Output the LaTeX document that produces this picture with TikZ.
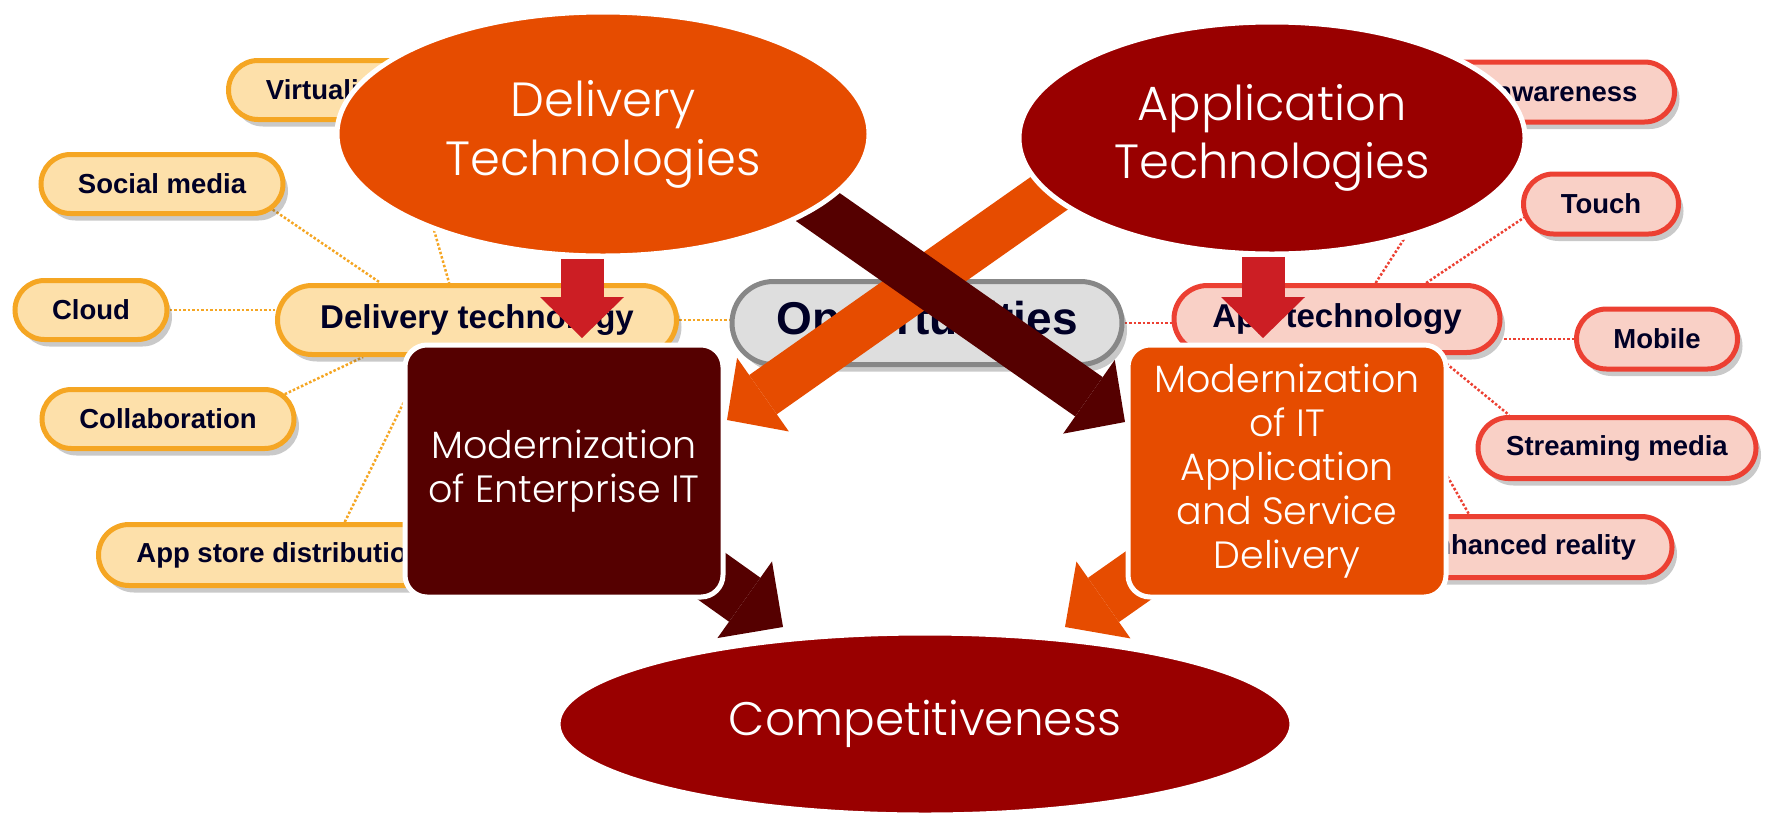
\documentclass[tikz,border=0pt]{standalone}
\usepackage{fontspec}
\usetikzlibrary{shapes.geometric,shapes.misc,arrows.meta,shadows}
\newfontfamily\gothic{Poppins}[UprightFont={* Light}]
\newfontfamily\mapfont{Liberation Sans}
\definecolor{techorange}{RGB}{230,76,0}
\definecolor{techred}{RGB}{153,0,0}
\definecolor{techmaroon}{RGB}{85,0,0}
\definecolor{downred}{RGB}{204,30,36}
\definecolor{delivline}{RGB}{245,166,35}
\definecolor{delivfill}{RGB}{253,224,170}
\definecolor{appline}{RGB}{236,64,50}
\definecolor{appfill}{RGB}{249,208,198}
\definecolor{oppline}{RGB}{135,135,135}
\definecolor{oppfill}{RGB}{222,222,222}
\pgfdeclarelayer{dots}
\pgfdeclarelayer{boxes}
\pgfdeclarelayer{arrows}
\pgfsetlayers{dots,boxes,arrows,main}
\tikzset{
  mapbox/.style={rounded rectangle, line width=5pt, inner sep=0pt, text=black!85!blue,
    font=\mapfont\bfseries\fontsize{27.5}{30}\selectfont,
    drop shadow={shadow xshift=5pt, shadow yshift=-7pt, opacity=0.3, fill=black!70}},
  delivbox/.style={mapbox, draw=delivline, fill=delivfill},
  apptechbox/.style={mapbox, draw=appline, fill=appfill},
  bigshape/.style={draw=white, line width=5pt, inner sep=0pt, text=white, align=center},
  delivdots/.style={draw=delivline, line width=2.5pt, dash pattern=on 2.5pt off 2pt},
  appdots/.style={draw=appline, line width=2.5pt, dash pattern=on 2.5pt off 2pt},
  fatarrow/.style={line width=48pt, -{Triangle[length=44pt, width=90pt, line width=0pt]}},
  lowarrow/.style={line width=54pt, -{Triangle[length=47pt, width=94pt, line width=0pt]}},
  droparrow/.style={line width=43pt, color=downred, -{Triangle[length=41pt, width=84pt, line width=0pt]}}
}
\begin{document}
\begin{tikzpicture}[x=1pt,y=-1pt]
	\useasboundingbox (0,0) rectangle (1769,812);
	\node[bigshape, ellipse, fill=techorange, minimum width=532pt, minimum height=244pt,
		font=\gothic\fontsize{48}{59}\selectfont] (deliv) at (603,134) {Delivery\\Technologies};
	\node[bigshape, ellipse, fill=techred, minimum width=506pt, minimum height=232pt,
		font=\gothic\fontsize{48}{58}\selectfont] (applic) at (1272,138) {Application\\Technologies};
	\node[bigshape, rectangle, rounded corners=22pt, fill=techmaroon, minimum width=318pt, minimum height=252pt,
		font=\gothic\fontsize{38}{43.5}\selectfont] (entbox) at (564,471) {Modernization\\of Enterprise IT};
	\node[bigshape, rectangle, rounded corners=22pt, fill=techorange, minimum width=318pt, minimum height=252pt,
		font=\gothic\fontsize{38}{44}\selectfont] (servbox) at (1287,471) {Modernization\\of IT\\Application\\and Service\\Delivery};
	\node[bigshape, ellipse, fill=techred, minimum width=734pt, minimum height=182pt,
		font=\gothic\fontsize{47}{55}\selectfont] (compet) at (925,724) {Competitiveness};
	\begin{pgfonlayer}{boxes}
		\node[delivbox, minimum width=247pt, minimum height=59pt] (virt) at (352,90) {Virtualization};
		\node[delivbox, minimum width=242pt, minimum height=59pt] (social) at (162,184) {Social media};
		\node[delivbox, minimum width=152pt, minimum height=59pt] (cloud) at (91,310) {Cloud};
		\node[delivbox, minimum width=252pt, minimum height=59pt] (collab) at (168,419) {Collaboration};
		\node[delivbox, minimum width=363pt, minimum height=61pt] (appstore) at (280,555) {App store distribution};
		\node[delivbox, minimum width=399pt, minimum height=69pt, font=\mapfont\bfseries\fontsize{33}{36}\selectfont] (dtech) at (477,320) {Delivery technology};
		\node[mapbox, draw=oppline, fill=oppfill, minimum width=390pt, minimum height=83pt, font=\mapfont\bfseries\fontsize{46}{50}\selectfont] (opp) at (927,323) {Opportunities};
		\node[apptechbox, minimum width=337pt, minimum height=60pt] (aware) at (1506,92) {Location awareness};
		\node[apptechbox, minimum width=155pt, minimum height=60pt] (touch) at (1601,204) {Touch};
		\node[apptechbox, minimum width=326pt, minimum height=67pt, font=\mapfont\bfseries\fontsize{33}{36}\selectfont] (atech) at (1337,319) {App technology};
		\node[apptechbox, minimum width=161pt, minimum height=60pt] (mobile) at (1657,339) {Mobile};
		\node[apptechbox, minimum width=278pt, minimum height=61pt] (stream) at (1617,448) {Streaming media};
		\node[apptechbox, minimum width=292pt, minimum height=61pt] (enhanced) at (1526,547) {Enhanced reality};
	\end{pgfonlayer}
	\begin{pgfonlayer}{dots}
		\draw[delivdots] (social.-13) -- (dtech.159);
		\draw[delivdots] (virt.-32) -- (dtech.127);
		\draw[delivdots] (cloud.east) -- (cloud.east -| dtech.west);
		\draw[delivdots] (collab.12) -- (dtech.198);
		\draw[delivdots] (appstore.27) -- (dtech.216);
		\draw[delivdots] (dtech.east) -- (dtech.east -| opp.west);
		\draw[appdots] (opp.east) -- (opp.east -| atech.west);
		\draw[appdots] (atech.43) -- (aware.-131);
		\draw[appdots] (atech.22) -- (touch.190);
		\draw[appdots] (mobile.west) -- (mobile.west -| atech.east);
		\draw[appdots] (atech.-20) -- (stream.163);
		\draw[appdots] (atech.-41) -- (enhanced.150);
	\end{pgfonlayer}
	\coordinate (dstart) at (772,175);
	\coordinate (astart) at (1078,173);
	\coordinate (etip) at (727,420);
	\coordinate (stip) at (1125,422);
	\coordinate (ltip) at (783,627);
	\coordinate (rtip) at (1065,627);
	\coordinate (dtip) at (582,338);
	\coordinate (atip) at (1263,338);
	\begin{pgfonlayer}{arrows}
		\draw[droparrow] ([xshift=-21pt]deliv.south) -- (dtip);
		\draw[droparrow] ([xshift=-9pt]applic.south) -- (atip);
		\draw[fatarrow, color=techorange] (astart) -- (etip);
		\draw[fatarrow, color=techmaroon] (dstart) -- (stip);
		\draw[lowarrow, color=techmaroon] (entbox.center) -- (ltip);
		\draw[lowarrow, color=techorange] (servbox.center) -- (rtip);
	\end{pgfonlayer}
\end{tikzpicture}
\end{document}
